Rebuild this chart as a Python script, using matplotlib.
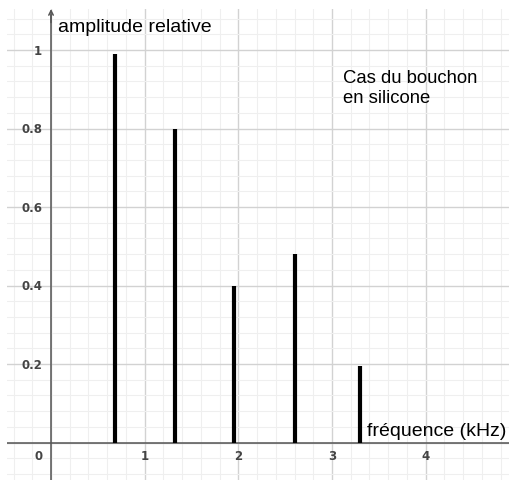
import matplotlib
matplotlib.use("Agg")
import matplotlib.pyplot as plt
from matplotlib.ticker import MultipleLocator

# Data
frequencies_khz = [0.68, 1.32, 1.95, 2.61, 3.30]
amplitudes = [0.99, 0.80, 0.40, 0.48, 0.195]
x_tick_values = [1, 2, 3, 4]
x_tick_labels = ["1", "2", "3", "4"]
y_tick_values = [0.2, 0.4, 0.6, 0.8, 1.0]
y_tick_labels = ["0.2", "0.4", "0.6", "0.8", "1"]

plt.rcParams['font.family'] = ['Liberation Sans', 'DejaVu Sans']

W, H = 510, 481
fig = plt.figure(figsize=(W / 100, H / 100), dpi=100)
ax = fig.add_axes([7 / W, 0, 1 - 7 / W, 1 - 10 / H])
ax.set_xlim(-0.47, 4.90)
ax.set_ylim(-0.0955, 1.1045)

# grid
ax.xaxis.set_major_locator(MultipleLocator(1))
ax.xaxis.set_minor_locator(MultipleLocator(0.2))
ax.yaxis.set_major_locator(MultipleLocator(0.2))
ax.yaxis.set_minor_locator(MultipleLocator(0.04))
ax.grid(which='major', color='#d2d2d2', lw=1.0)
ax.grid(which='minor', color='#efefef', lw=0.8)
ax.set_axisbelow(True)
ax.tick_params(which='both', length=0, labelbottom=False, labelleft=False)
for s in ax.spines.values():
    s.set_visible(False)

# axes lines
ax.axhline(0, color='#555555', lw=1.1, zorder=2)
ax.plot([0, 0], [-0.0955, 1.09], color='#555555', lw=1.1, zorder=2, clip_on=False)
ax.annotate('', xy=(0, 1.1045), xytext=(0, 1.07),
            arrowprops=dict(arrowstyle='->', color='#555555', lw=1.1,
                            shrinkA=0, shrinkB=0, mutation_scale=8),
            annotation_clip=False)

# bars
ax.vlines(frequencies_khz, 0, amplitudes, colors='black', lw=3.0, zorder=3,
          capstyle='butt')

# tick labels
lab_kw = dict(fontsize=8.5, color='#444444', fontweight='bold', family='DejaVu Sans')
for v, t in zip(y_tick_values, y_tick_labels):
    ax.text(-0.095, v, t, ha='right', va='center', **lab_kw)
for v, t in zip(x_tick_values, x_tick_labels):
    ax.text(v, -0.032, t, ha='center', va='center', **lab_kw)
ax.text(-0.13, -0.032, "0", ha='center', va='center', **lab_kw)

# axis titles
ax.text(0.07, 1.06, "amplitude relative", ha='left', va='center',
        fontsize=14, color='black')
ax.text(3.37, 0.03, "fréquence (kHz)", ha='left', va='center',
        fontsize=14, color='black')
ax.text(3.115, 0.905, "Cas du bouchon\nen silicone", ha='left', va='center',
        fontsize=13.3, color='black', linespacing=1.25)

fig.savefig("out.png", dpi=100)
